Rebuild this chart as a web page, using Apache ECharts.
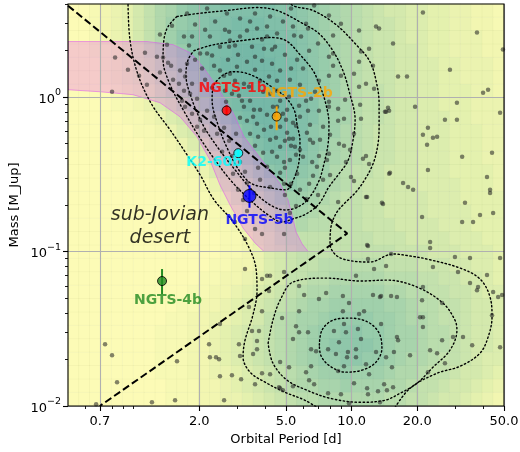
<!DOCTYPE html>
<html>
<head>
<meta charset="utf-8">
<script src="https://cdn.jsdelivr.net/npm/echarts@6/dist/echarts.min.js"></script>
<style>
html,body{margin:0;padding:0;background:#fff;}
#chart{width:520px;height:452px;}
</style>
</head>
<body>
<div id="chart"></div>
<script>
// ---------------- axis ticks ----------------
const xMajorTicks = [0.7, 2, 5, 10, 20, 50];
const xMinorTicks = [0.6, 0.8, 0.9, 1, 3, 4, 6, 7, 8, 9, 30, 40];
const yMajorTicks = [0.01, 0.1, 1];
const yMinorTicks = [0.02, 0.03, 0.04, 0.05, 0.06, 0.07, 0.08, 0.09,
                     0.2, 0.3, 0.4, 0.5, 0.6, 0.7, 0.8, 0.9, 2, 3, 4];

// ---------------- occurrence density, levels 0-19 written in base 20 (0-9, A-J) ----------------
// 40 columns in log10(P) from log10(0.5) to log10(50), 30 rows in log10(M) from log10(4) down to -2
const densityRows = [
  "00123468AB DEFFGGGGGF FEDCBA9876 6554433221",
  "00123468AC DEFGGHHHGG FEDCBA9877 6554433221",
  "00123468AC EFGGHHHHHG GFECBA9877 6554433322",
  "001124579B DFGHHIIIHH GFEDBA9877 6654433322",
  "000123568A CEGHIIIIIH HGEDCA9877 6655443332",
  "0001234579 BDFGHIIIII HGFDCA9877 6655443332",
  "0000123468 ACEFHIIIII HGFDCA9887 6655444332",
  "0000112356 8ACEGHIIII HGFDCB9887 6655444333",
  "0000011235 68ACEGHIII HGFDCB9887 6655544333",
  "0000001123 568ACEGHII HGEDCA9877 6655544433",
  "0000000112 3568ACEGHH HGEDBA9877 6655544433",
  "0000000011 23568ACEGG GFECBA9877 6655544433",
  "0000000001 123568ACEF FEDCA98876 6655544443",
  "0000000000 1123568ACD EDCBA98776 6655554443",
  "0000000000 01123568AC CCBA988776 6665554444",
  "0000000000 001123568A BBA9988776 6665555444",
  "0000000000 0001123568 9A99888777 6666555444",
  "0000000000 0000112457 8888888877 7666655544",
  "0000000000 0000112356 7888888888 7776665554",
  "0000000000 0001122356 7889999998 8877766554",
  "0000000000 0011223456 8899AAAAA9 9988776654",
  "0000000000 0112234567 89AABBBBBA A998877655",
  "0000000000 1122345678 9ABBCCCCCB BA99887665",
  "0000000001 1223345689 ABBCDDDDCC BAA9887665",
  "0000000011 1223456789 ABCDDEEDDC BBA9987665",
  "0000000011 1223456789 ABCDEEEEDC BBA9987665",
  "0000000011 1223456789 ABCDDEEDDC BAA9887655",
  "0000000011 1223345678 9ABCCDCCCB AA98876654",
  "0000000001 1122345678 9AABBCBBBA A988766543",
  "0000000001 1122334567 899AAAAAA9 9887665432"
];
const densityColors = ['#fcfbb6', '#f1f6b1', '#e3f0ae', '#d1e8ad', '#bfdfad',
                       '#acd6ac', '#9acdab', '#89c4aa', '#7bbca8', '#70b5a6'];

// ---------------- known planets: [log10 P(d), log10 M(M_Jup)] ----------------
const planetSample = [
  [0.245,0.540],[0.337,0.573],[0.428,0.540],[0.488,0.508],[0.557,0.540],[0.626,0.521],[0.231,0.391],[0.268,0.391],
  [0.350,0.391],[0.438,0.423],[0.442,0.365],[0.488,0.391],[0.520,0.430],[0.566,0.443],[0.612,0.456],[0.612,0.391],
  [0.658,0.411],[0.254,0.333],[0.305,0.281],[0.337,0.281],[0.360,0.268],[0.396,0.326],[0.438,0.326],[0.465,0.333],
  [0.543,0.326],[0.598,0.313],[0.649,0.326],[0.245,0.216],[0.314,0.184],[0.369,0.203],[0.396,0.171],[0.474,0.196],
  [0.520,0.229],[0.589,0.235],[0.635,0.216],[0.415,0.138],[0.442,0.151],[0.465,0.106],[0.506,0.086],[0.529,0.067],
  [0.580,0.106],[0.621,0.132],[0.658,0.106],[0.672,0.171],[0.419,0.041],[0.451,0.021],[0.483,0.008],[0.626,0.021],
  [0.658,0.041],[0.672,-0.024],[0.497,-0.024],[0.534,-0.024],[0.213,0.171],[0.236,0.132],[0.208,0.086],[0.231,0.041],
  [0.268,0.086],[0.259,0.021],[0.291,-0.011],[0.222,-0.024],[0.121,0.404],[0.153,0.339],[0.176,0.462],[0.135,0.255],
  [0.172,0.203],
  [0.282,0.469],[0.374,0.488],[0.534,0.488],[0.685,0.488],[0.328,0.436],[0.589,0.372],[0.694,0.274],[0.557,0.261],
  [0.433,0.242],[0.282,0.242],[0.328,0.112],[0.557,0.177],[0.717,0.112],[0.594,0.034],[0.704,-0.082],[0.745,-0.186],
  [0.809,-0.180],[0.649,-0.115],[0.548,-0.128],[0.763,-0.342],[0.819,-0.420],[0.694,-0.634],[0.763,-0.601],[0.846,-0.634],
  [0.809,-0.277],[0.901,-0.245],[0.970,-0.018],[1.039,-0.050],[0.993,-0.342],[0.901,-0.504],[0.571,-0.458],[0.424,-0.030],
  [0.360,0.060],[0.479,0.274],[0.635,0.307],[0.419,0.436],
  [0.722,0.573],[0.828,0.592],[0.896,0.527],[0.731,0.456],[0.791,0.475],[0.800,0.443],[0.736,0.398],[0.768,0.391],
  [0.951,0.475],[1.034,0.430],[1.112,0.456],[1.126,0.443],[1.190,0.346],[0.846,0.346],[0.915,0.398],[1.080,0.313],
  [1.043,0.294],[0.805,0.300],[0.722,0.184],[0.777,0.184],[0.896,0.261],[0.915,0.281],[0.915,0.203],[1.034,0.229],
  [1.098,0.203],[0.896,0.138],[0.951,0.138],[1.011,0.151],[1.066,0.086],[1.103,0.054],[1.034,0.067],[0.850,0.106],
  [0.713,0.002],[0.791,-0.024],[0.814,-0.011],[0.896,-0.030],[0.763,0.080],[0.750,0.242],[0.832,0.034],
  [1.327,0.547],[1.575,0.417],[1.694,0.307],[1.451,0.177],[1.213,0.132],[1.254,0.132],[1.626,0.047],[1.603,0.028],
  [1.483,-0.037],[1.291,-0.063],[1.167,-0.069],[1.153,-0.095],[1.681,-0.102],[1.428,-0.147],[1.483,-0.147],[1.327,-0.245],
  [1.350,-0.199],[1.373,-0.264],[1.346,-0.309],[1.392,-0.257],[1.507,-0.387],[1.644,-0.361],[1.350,-0.472],[1.176,-0.491],
  [1.236,-0.556],[1.259,-0.582],[1.282,-0.601],[1.621,-0.517],[1.635,-0.601],[1.635,-0.621],[1.071,-0.647],[1.139,-0.685],
  [1.520,-0.685],[1.589,-0.763],[1.649,-0.750],[1.323,-0.776],[1.507,-0.809],[1.557,-0.809],
  [0.759,-0.056],[0.800,-0.089],[0.850,-0.089],[0.896,-0.063],[0.938,-0.076],[0.713,-0.270],[0.731,-0.270],[0.722,-0.316],
  [0.740,-0.322],[0.869,-0.193],[0.938,-0.154],[0.965,-0.141],[1.043,-0.141],[1.158,-0.095],[1.172,-0.089],[0.942,-0.303],
  [0.965,-0.316],[0.896,-0.368],[0.850,-0.381],[1.011,-0.238],[0.974,-0.420],[1.066,-0.381],[1.052,-0.400],[1.080,-0.433],
  [1.172,-0.497],[0.805,-0.562],[0.722,-0.562],[0.997,-0.517],[1.011,-0.543],[1.066,-0.647],[1.144,-0.692],[0.791,-0.660],
  [0.938,-0.679],
  [0.580,-0.082],[0.612,-0.115],[0.639,-0.063],[0.672,-0.193],[0.704,-0.232],[0.731,-0.167],[0.763,-0.128],[0.795,-0.232],
  [0.823,-0.296],[0.855,-0.277],[0.745,-0.374],[0.672,-0.322],[0.626,-0.277],[0.594,-0.361],[0.658,-0.387],[0.717,-0.407],
  [0.777,-0.387],[0.841,-0.452],[0.887,-0.407],[0.612,-0.452],[0.672,-0.491],[0.750,-0.497],[0.823,-0.510],[0.869,-0.536],
  [0.580,-0.536],[0.626,-0.582],
  [0.506,-0.063],[0.552,-0.082],[0.658,-0.063],[0.685,-0.108],[0.488,-0.134],[0.520,-0.154],[0.566,-0.173],[0.598,-0.212],
  [0.630,-0.193],[0.699,-0.147],[0.534,-0.238],[0.571,-0.257],[0.653,-0.264],[0.694,-0.283],[0.557,-0.316],[0.635,-0.355],
  [0.690,-0.420],[0.694,-0.458],[0.690,-0.562],
  [0.337,-0.089],[0.369,-0.128],[0.291,-0.193],[0.323,-0.219],[0.383,-0.238],[0.415,-0.199],[0.438,-0.283],[0.470,-0.238],
  [0.406,-0.355],[0.451,-0.381],[0.488,-0.420],[0.511,-0.484],[0.456,-0.497],[0.520,-0.556],[0.479,-0.601],[0.552,-0.621],
  [0.502,-0.666],[0.236,-0.063],[0.268,-0.108],[0.305,-0.147],
  [-0.085,0.255],[-0.099,0.034],[-0.026,0.177],[0.052,0.287],[0.107,0.261],[0.121,0.158],[0.158,0.222],[0.181,0.112],
  [0.061,0.080],[0.025,0.138],
  [0.520,-0.737],[0.557,-0.854],[0.589,-0.887],[0.511,-0.919],[0.690,-0.887],[0.511,-1.113],[0.612,-1.157],[0.626,-1.157],
  [0.589,-1.178],[0.690,-1.133],[0.621,-1.256],[0.465,-0.809],
  [0.745,-0.705],[1.075,-0.964],[1.181,-1.016],[1.158,-1.094],[1.103,-1.113],[1.075,-1.049],[1.020,-1.157],[0.759,-1.224],
  [0.782,-1.282],[0.883,-1.269],[0.850,-1.308],[0.960,-1.288],[0.988,-1.334],[1.098,-1.282],[1.135,-1.288],[1.181,-1.288],
  [0.717,-0.750],
  [1.360,-0.938],[1.360,-0.977],[1.543,-1.042],[1.681,-1.042],[1.488,-1.133],[1.621,-1.152],[1.543,-1.204],[1.580,-1.230],
  [1.575,-1.250],[1.649,-1.262],[1.672,-1.295],[1.690,-1.282],[1.327,-1.230],[1.323,-1.315],[1.208,-1.295],[1.415,-1.334],
  [1.314,-1.425],[1.327,-1.425],[1.644,-1.412],[1.681,-1.619],[1.553,-1.606],[1.511,-1.554],[1.465,-1.554],[1.415,-1.574],
  [1.360,-1.639],[1.392,-1.658],[1.428,-1.723],[1.350,-1.781],[1.327,-1.489],[1.268,-1.671],[1.208,-1.554],[1.213,-1.574],
  [1.373,-1.100],[1.474,-1.036],[1.185,-1.749],[1.162,-1.898],[1.130,-1.976],[1.071,-0.958],[1.130,-1.295],
  [0.759,-1.386],[0.960,-1.386],[1.057,-1.386],[1.034,-1.405],[1.135,-1.470],[0.745,-1.483],[0.759,-1.522],[0.800,-1.522],
  [0.731,-1.567],[0.919,-1.515],[0.965,-1.470],[0.974,-1.522],[1.029,-1.502],[0.892,-1.632],[0.942,-1.587],[1.043,-1.567],
  [1.020,-1.632],[0.814,-1.632],[0.837,-1.645],[0.928,-1.664],[0.983,-1.651],[0.979,-1.684],[1.020,-1.684],[1.112,-1.651],
  [1.158,-1.684],[1.194,-1.651],[0.965,-1.742],[0.938,-1.774],[1.066,-1.729],[1.080,-1.794],[0.713,-1.749],[0.814,-1.742],
  [0.791,-1.781],[0.805,-1.833],[0.731,-1.872],[0.828,-1.859],[0.951,-1.924],[0.892,-1.917],[0.988,-1.982],[1.011,-1.853],
  [1.075,-1.924],[1.121,-1.904],[1.149,-1.859],[1.190,-1.879],[1.071,-1.885],[0.681,-1.431],[0.672,-1.885],[0.589,-1.788],
  [0.396,-1.470],[0.346,-1.600],[0.350,-1.684],[0.378,-1.684],[0.392,-1.697],[0.396,-1.807],[0.451,-1.801],[0.493,-1.827],
  [0.557,-1.859],[0.415,-1.963],[0.199,-1.710],[0.483,-1.600],[0.488,-1.677],[0.548,-1.664],[0.566,-1.632],[0.566,-1.580],
  [0.543,-1.515],[0.575,-1.515],[0.589,-1.386],[0.529,-1.359],[0.626,-1.794],[0.672,-1.716],[0.667,-1.879],[0.685,-1.898],
  [-0.131,-1.600],[-0.099,-1.671],[-0.076,-1.846],[0.084,-1.976],[0.190,-1.963],[-0.172,-1.989]
];

// ---------------- density contours: [log10 P, log10 M] ----------------
const contourOuterLeft = [
  [-0.026,0.650],[-0.017,0.372],[0.020,0.145],[0.084,-0.050],[0.167,-0.212],[0.236,-0.355],[0.305,-0.504],
  [0.369,-0.666],[0.450,-0.796],[0.523,-0.958],[0.561,-1.107],[0.566,-1.256],[0.547,-1.412],[0.511,-1.574],
  [0.502,-1.684],[0.534,-1.781],[0.603,-1.846],[0.694,-1.911],[0.786,-1.963],[0.864,-2.030]
];
const contourOuterRight = [
  [1.190,-2.030],[1.268,-1.885],[1.392,-1.788],[1.497,-1.743],[1.589,-1.658],[1.626,-1.554],[1.644,-1.424],
  [1.635,-1.295],[1.589,-1.178],[1.497,-1.107],[1.346,-1.049],[1.268,-1.029],[1.190,-1.016],[1.084,-1.068],
  [1.006,-1.062],[0.933,-1.029],[0.901,-0.951],[0.906,-0.835],[0.933,-0.744],[0.970,-0.685],[1.016,-0.621],
  [1.057,-0.543],[1.098,-0.433],[1.121,-0.303],[1.126,-0.174],[1.126,-0.043],[1.116,0.080],[1.084,0.229],
  [1.016,0.346],[0.928,0.469],[0.823,0.560],[0.731,0.592],[0.694,0.650]
];
const contourUpper2 = [
  [0.199,0.521],[0.291,0.540],[0.428,0.560],[0.566,0.579],[0.658,0.560],[0.777,0.475],[0.850,0.411],[0.914,0.300],
  [0.960,0.171],[0.988,0.041],[1.016,-0.147],[1.006,-0.283],[0.983,-0.413],[0.942,-0.497],[0.896,-0.582],
  [0.850,-0.692],[0.791,-0.757],[0.731,-0.789],[0.681,-0.809],[0.617,-0.763],[0.534,-0.666],[0.451,-0.549],
  [0.373,-0.407],[0.295,-0.245],[0.227,-0.082],[0.167,0.080],[0.135,0.242],[0.139,0.372],[0.158,0.456],[0.199,0.521]
];
const contourUpper3 = [
  [0.277,0.300],[0.350,0.333],[0.428,0.352],[0.534,0.372],[0.626,0.385],[0.699,0.365],[0.759,0.281],[0.823,0.171],
  [0.850,0.086],[0.878,-0.024],[0.896,-0.173],[0.892,-0.303],[0.873,-0.433],[0.850,-0.543],[0.805,-0.653],
  [0.754,-0.712],[0.694,-0.731],[0.626,-0.698],[0.543,-0.601],[0.465,-0.471],[0.387,-0.329],[0.318,-0.180],
  [0.268,-0.018],[0.240,0.145],[0.250,0.242],[0.277,0.300]
];
const contourUpper4 = [
  [0.406,0.138],[0.451,0.164],[0.506,0.158],[0.566,0.125],[0.626,0.073],[0.694,0.002],[0.736,-0.082],[0.750,-0.180],
  [0.763,-0.283],[0.759,-0.413],[0.731,-0.543],[0.699,-0.601],[0.626,-0.588],[0.543,-0.562],[0.488,-0.484],
  [0.433,-0.342],[0.387,-0.180],[0.360,-0.018],[0.369,0.080],[0.406,0.138]
];
const contourLower1 = [
  [0.617,-1.593],[0.639,-1.444],[0.672,-1.315],[0.731,-1.198],[0.887,-1.172],[1.039,-1.191],[1.162,-1.185],
  [1.300,-1.230],[1.419,-1.334],[1.474,-1.444],[1.483,-1.509],[1.451,-1.639],[1.373,-1.749],[1.300,-1.853],
  [1.222,-1.918],[1.153,-1.963],[1.039,-1.976],[0.901,-1.950],[0.795,-1.898],[0.704,-1.833],[0.639,-1.723],[0.617,-1.593]
];
const contourLower2 = [
  [0.852,-1.606],[0.864,-1.509],[0.915,-1.444],[0.993,-1.431],[1.075,-1.457],[1.126,-1.528],[1.139,-1.625],
  [1.112,-1.716],[1.048,-1.768],[0.970,-1.781],[0.901,-1.742],[0.860,-1.677],[0.852,-1.606]
];

// ---------------- highlighted region and desert boundaries: [log10 P, log10 M] ----------------
const bandOutline = [
  [-0.301,0.359],[0.061,0.359],[0.181,0.339],[0.259,0.287],[0.318,0.196],[0.382,0.067],[0.456,-0.102],
  [0.506,-0.257],[0.566,-0.368],[0.626,-0.478],[0.672,-0.562],[0.708,-0.666],[0.727,-0.763],[0.745,-0.874],
  [0.773,-0.951],[0.800,-1.0],[0.598,-1.0],[0.557,-0.945],[0.502,-0.848],[0.442,-0.698],[0.396,-0.569],
  [0.350,-0.407],[0.291,-0.257],[0.213,-0.128],[0.121,-0.037],[-0.003,0.015],[-0.154,0.034],[-0.301,0.047]
];
const desertBoundary = [[-0.301, 0.591], [0.980, -0.883], [-0.155, -2.0]];

// ---------------- highlighted planets ----------------
const namedPlanets = ['NGTS-1b', 'NGTS-2b', 'K2-60b', 'NGTS-5b', 'NGTS-4b'];
const namedPeriod  = [2.67, 4.53, 3.02, 3.40, 1.35];
const namedMass    = [0.818, 0.748, 0.433, 0.229, 0.0644];
const namedMassLo  = [0.76, 0.61, 0.41, 0.192, 0.053];
const namedMassHi  = [0.885, 0.87, 0.455, 0.268, 0.077];
const namedColors  = ['#ff0000', '#ffa500', '#00ffff', '#0000ff', '#228b22'];
const namedSizes   = [9, 9, 9, 13, 9];
const namedOffsets = [[6, -22], [22, -23], [-24, 9], [10, 24], [6, 19]];

const FONT = 'DejaVu Sans';
const pow10 = d => [Math.pow(10, d[0]), Math.pow(10, d[1])];
const box = { left: 68, top: 4, width: 436, height: 402 };

const heatRows = densityRows.map(r => r.replace(/ /g, ''));
const heatData = [];
heatRows.forEach((row, r) => {
  for (let c = 0; c < row.length; c++) {
    heatData.push([c, heatRows.length - 1 - r, parseInt(row[c], 20)]);
  }
});
const heatCols = Array.from({ length: heatRows[0].length }, (_, i) => i);
const heatRowIdx = Array.from({ length: heatRows.length }, (_, i) => i);

function contourSeries(pts) {
  return {
    type: 'line', xAxisIndex: 0, yAxisIndex: 0, z: 4, silent: true,
    data: pts.map(pow10), symbol: 'none', smooth: 0.35,
    lineStyle: { color: '#000', width: 1.4, type: [1.4, 2.6], cap: 'round' },
    clip: true
  };
}

const supMinus = n => String(n).replace('-', '\u2212');

const series = [
  {
    type: 'heatmap', xAxisIndex: 2, yAxisIndex: 2, z: 1, silent: true,
    data: heatData, itemStyle: { borderWidth: 0.6, borderColor: 'rgba(40,90,70,0.05)' }
  },
  {
    type: 'custom', xAxisIndex: 0, yAxisIndex: 0, z: 2, silent: true, clip: true,
    data: [[1, 1]],
    renderItem: (params, api) => {
      const pts = bandOutline.map(d => api.coord(pow10(d)));
      return {
        type: 'polygon', shape: { points: pts },
        style: { fill: 'rgba(226,86,248,0.29)', stroke: 'rgba(222,86,236,0.55)', lineWidth: 1 }
      };
    }
  },
  contourSeries(contourOuterLeft),
  contourSeries(contourOuterRight),
  contourSeries(contourUpper2),
  contourSeries(contourUpper3),
  contourSeries(contourUpper4),
  contourSeries(contourLower1),
  contourSeries(contourLower2),
  {
    type: 'scatter', xAxisIndex: 0, yAxisIndex: 0, z: 5, silent: true, clip: true,
    data: planetSample.map(pow10), symbolSize: 4.5,
    itemStyle: { color: 'rgba(35,35,35,0.7)' }
  },
  {
    type: 'line', xAxisIndex: 0, yAxisIndex: 0, z: 6, silent: true, clip: true,
    data: desertBoundary.map(pow10), symbol: 'none',
    lineStyle: { color: '#000', width: 2, type: [7.4, 3.4] }
  },
  {
    type: 'custom', xAxisIndex: 0, yAxisIndex: 0, z: 7, silent: true,
    data: namedPlanets.map((n, i) => [namedPeriod[i], namedMassLo[i], namedMassHi[i], i]),
    renderItem: (params, api) => {
      const lo = api.coord([api.value(0), api.value(1)]);
      const hi = api.coord([api.value(0), api.value(2)]);
      return {
        type: 'line', shape: { x1: lo[0], y1: lo[1], x2: hi[0], y2: hi[1] },
        style: { stroke: namedColors[api.value(3)], lineWidth: 2 }
      };
    }
  }
];

namedPlanets.forEach((name, i) => {
  series.push({
    type: 'scatter', xAxisIndex: 0, yAxisIndex: 0, z: 8, silent: true,
    data: [[namedPeriod[i], namedMass[i]]], symbol: 'circle', symbolSize: namedSizes[i],
    itemStyle: { color: namedColors[i], borderColor: '#000', borderWidth: 1 },
    label: {
      show: true, position: 'inside', offset: namedOffsets[i], formatter: name,
      color: namedColors[i], fontFamily: FONT, fontWeight: 'bold', fontSize: 14
    }
  });
});

// region annotation
series.push({
  type: 'scatter', xAxisIndex: 0, yAxisIndex: 0, z: 9, silent: true,
  data: [[1.32, 0.146]], symbolSize: 1, itemStyle: { color: 'rgba(0,0,0,0)' },
  label: {
    show: true, position: 'inside', formatter: 'sub-Jovian\ndesert',
    color: '#000', fontFamily: FONT, fontStyle: 'italic', fontSize: 19, lineHeight: 23, align: 'center'
  }
});

const option = {
  animation: false,
  backgroundColor: '#fff',
  grid: [
    Object.assign({ show: true, borderColor: '#000', borderWidth: 1.1, backgroundColor: 'rgba(0,0,0,0)', z: 10,
                    containLabel: false, outerBoundsMode: 'none' }, box),
    Object.assign({ show: false, containLabel: false, outerBoundsMode: 'none' }, box)
  ],
  visualMap: {
    type: 'continuous', show: false, seriesIndex: 0, min: 0, max: 19,
    inRange: { color: densityColors }
  },
  xAxis: [
    {
      type: 'log', logBase: 10, gridIndex: 0, min: 0.5, max: 50, position: 'bottom', z: 3,
      axisLine: { show: false },
      axisTick: { show: true, customValues: xMajorTicks, length: 5, lineStyle: { color: '#000', width: 1.1 } },
      axisLabel: { show: true, customValues: xMajorTicks, formatter: v => Number(v).toFixed(1),
                   color: '#000', fontSize: 13, fontFamily: FONT, margin: 9 },
      splitLine: { show: true, lineStyle: { color: '#b0b0b0', width: 1.1 } },
      minorTick: { show: false }, minorSplitLine: { show: false },
      name: 'Orbital Period [d]', nameLocation: 'middle', nameGap: 27, nameMoveOverlap: false,
      nameTextStyle: { fontSize: 13, fontFamily: FONT, color: '#000' }
    },
    {
      type: 'log', logBase: 10, gridIndex: 0, min: 0.5, max: 50, position: 'bottom', z: 3,
      axisLine: { show: false },
      axisTick: { show: true, customValues: xMinorTicks, length: 3, lineStyle: { color: '#000', width: 0.9 } },
      axisLabel: { show: false }, splitLine: { show: false }
    },
    { type: 'category', gridIndex: 1, show: false, data: heatCols }
  ],
  yAxis: [
    {
      type: 'log', logBase: 10, gridIndex: 0, min: 0.01, max: 4, position: 'left', z: 3,
      axisLine: { show: false },
      axisTick: { show: true, customValues: yMajorTicks, length: 5, lineStyle: { color: '#000', width: 1.1 } },
      axisLabel: {
        show: true, customValues: yMajorTicks, margin: 7,
        formatter: v => '{b|10}{s|' + supMinus(Math.round(Math.log10(v))) + '}',
        rich: {
          b: { fontSize: 13, fontFamily: FONT, color: '#000', lineHeight: 18, verticalAlign: 'bottom' },
          s: { fontSize: 9.5, fontFamily: FONT, color: '#000', lineHeight: 18, verticalAlign: 'top' }
        }
      },
      splitLine: { show: true, lineStyle: { color: '#b0b0b0', width: 1.1 } },
      minorTick: { show: false }, minorSplitLine: { show: false },
      name: 'Mass [M_Jup]', nameLocation: 'middle', nameGap: 47, nameRotate: 90, nameMoveOverlap: false,
      nameTextStyle: { fontSize: 13, fontFamily: FONT, color: '#000' }
    },
    {
      type: 'log', logBase: 10, gridIndex: 0, min: 0.01, max: 4, position: 'left', z: 3,
      axisLine: { show: false },
      axisTick: { show: true, customValues: yMinorTicks, length: 3, lineStyle: { color: '#000', width: 0.9 } },
      axisLabel: { show: false }, splitLine: { show: false }
    },
    { type: 'category', gridIndex: 1, show: false, data: heatRowIdx }
  ],
  series: series
};

const chart = echarts.init(document.getElementById('chart'), null, { renderer: 'canvas' });
chart.setOption(option);
</script>
</body>
</html>
